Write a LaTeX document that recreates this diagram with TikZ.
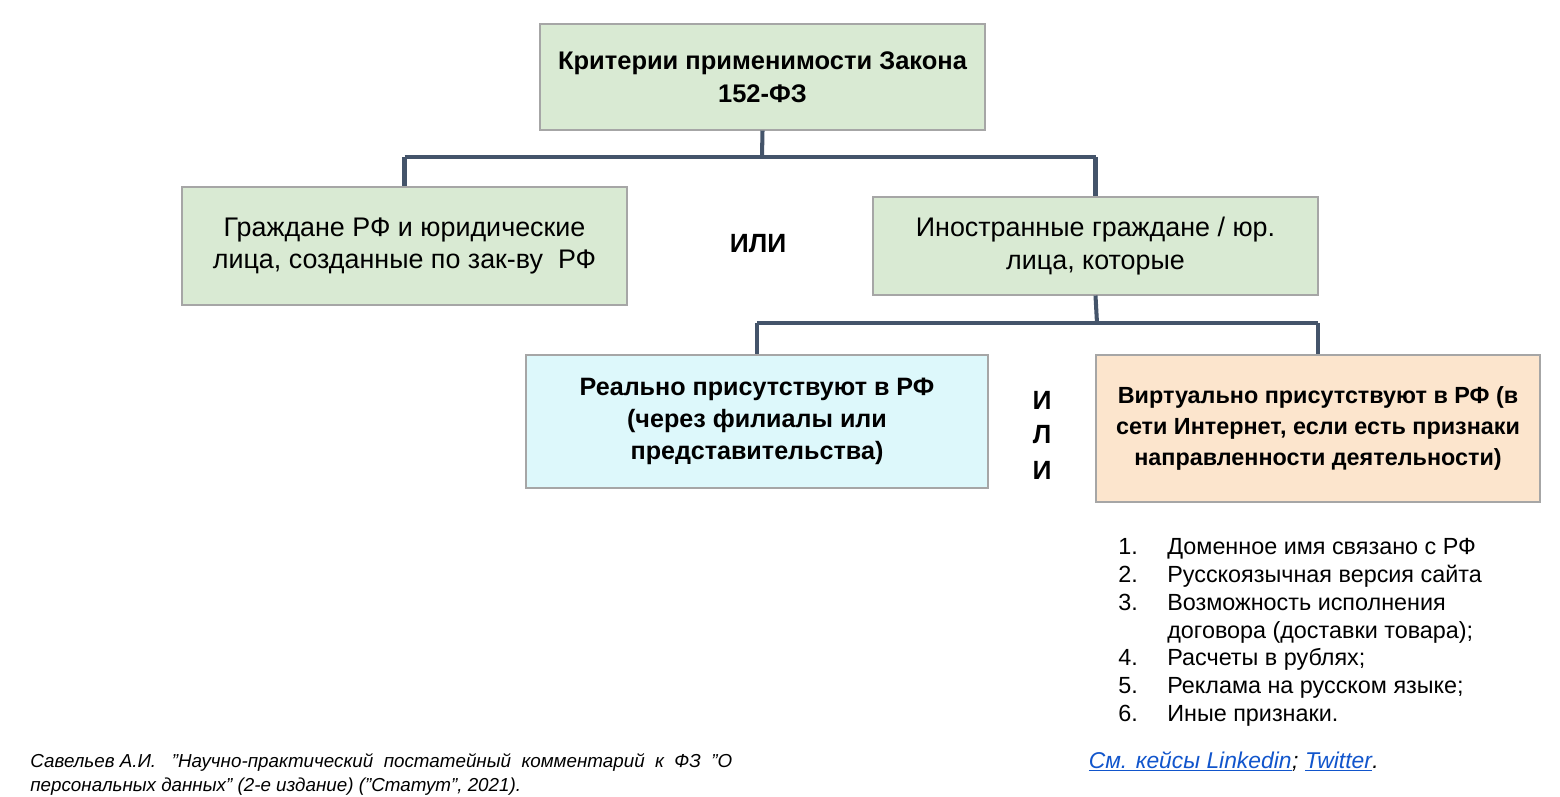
\documentclass[tikz,border=0pt]{standalone}
\usepackage{fontspec}
\setmainfont{Liberation Sans}
\newcommand{\myul}[1]{\tikz[baseline=(u.base)]{\node[inner sep=0pt,outer sep=0pt] (u) {#1};\draw[lnk,line width=0.5pt] ([yshift=-1.5pt]u.base west) -- ([yshift=-1.5pt]u.base east);}}
\begin{document}
\begin{tikzpicture}[x=0.02cm,y=-0.02cm,
 box/.style={draw=gray!70,line width=0.6pt,align=center,inner sep=0pt,font=\fontsize{15.3}{18.7}\selectfont},
 txt/.style={font=\fontsize{13.3}{16}\selectfont,anchor=base west,inner sep=0pt}]
\definecolor{gfill}{HTML}{D9EAD3}
\definecolor{bfill}{HTML}{DDF8FB}
\definecolor{ofill}{HTML}{FCE5CD}
\definecolor{lnk}{HTML}{1155CC}
\definecolor{conc}{HTML}{44546A}
\useasboundingbox (0,0) rectangle (1560,796);
\fill[white] (0,0) rectangle (1560,796);
\node[box,fill=gfill,minimum width=445*0.02cm,minimum height=106*0.02cm,font=\bfseries\fontsize{14.5}{18.7}\selectfont] (top) at (762.5,77) {Критерии применимости Закона\\152-ФЗ};
\node[box,fill=gfill,minimum width=445*0.02cm,minimum height=118*0.02cm] (left) at (404.5,246) {Граждане РФ и юридические\\лица, созданные по зак-ву\ \ РФ};
\node[box,fill=gfill,minimum width=445*0.02cm,minimum height=98*0.02cm] (right) at (1095.5,246) {Иностранные граждане / юр.\\лица, которые};
\node[box,fill=bfill,minimum width=462*0.02cm,minimum height=133*0.02cm,font=\bfseries\fontsize{14.3}{18.3}\selectfont] (real) at (757,421.5) {Реально присутствуют в РФ\\(через филиалы или\\представительства)};
\node[box,fill=ofill,minimum width=444*0.02cm,minimum height=147*0.02cm,font=\bfseries\fontsize{13.3}{17.5}\selectfont] (virt) at (1318,428.5) {Виртуально присутствуют в РФ (в\\сети Интернет, если есть признаки\\направленности деятельности)};
\coordinate (j1) at (762,157);
\coordinate (j2) at (1097,323);
\draw[conc,line width=2.3pt] (top.south) -- (j1);
\draw[conc,line width=2.3pt] (left.north|-j1) -- (right.north|-j1);
\draw[conc,line width=2.3pt] (left.north|-j1) -- (left.north);
\draw[conc,line width=2.3pt] (right.north|-j1) -- (right.north);
\draw[conc,line width=2.3pt] (right.south) -- (j2);
\draw[conc,line width=2.3pt] (757,323) -- (1318,323);
\draw[conc,line width=2.3pt] (757,323) -- (real.north);
\draw[conc,line width=2.3pt] (1318,323) -- (virt.north);
\node[font=\bfseries\fontsize{15}{18}\selectfont] (or1) at (758,244) {ИЛИ};
\node[font=\bfseries\fontsize{15}{18}\selectfont] (or2a) at (1042,400) {И};
\node[font=\bfseries\fontsize{15}{18}\selectfont] (or2b) at (1042,435) {Л};
\node[font=\bfseries\fontsize{15}{18}\selectfont] (or2c) at (1042,470) {И};
\foreach \n/\t/\y in {1/Доменное имя связано с РФ/547,2/Русскоязычная версия сайта/575,3/Возможность исполнения/603,4/Расчеты в рублях;/658,5/Реклама на русском языке;/686,6/Иные признаки./714}{
 \node[txt] (n\n) at (1118,\y+7) {\n.};
 \node[txt] (t\n) at (1167,\y+7) {\t};}
\node[txt] (t3b) at (1167,638) {договора (доставки товара);};
\node[txt,font=\itshape\fontsize{10.7}{12}\selectfont] (cit1) at (30,767) {Савельев А.И.\ \ \ "Научно-практический\ \ постатейный\ \ комментарий\ \ к\ \ ФЗ\ \ "О};
\node[txt,font=\itshape\fontsize{10.7}{12}\selectfont] (cit2) at (30,791) {персональных данных" (2-е издание) ("Статут", 2021).};
\node[txt,font=\itshape\fontsize{13}{16}\selectfont] (links) at (1088,768) {\textcolor{lnk}{\myul{См. кейсы Linkedin}}; \textcolor{lnk}{\myul{Twitter}}.};
\end{tikzpicture}
\end{document}
